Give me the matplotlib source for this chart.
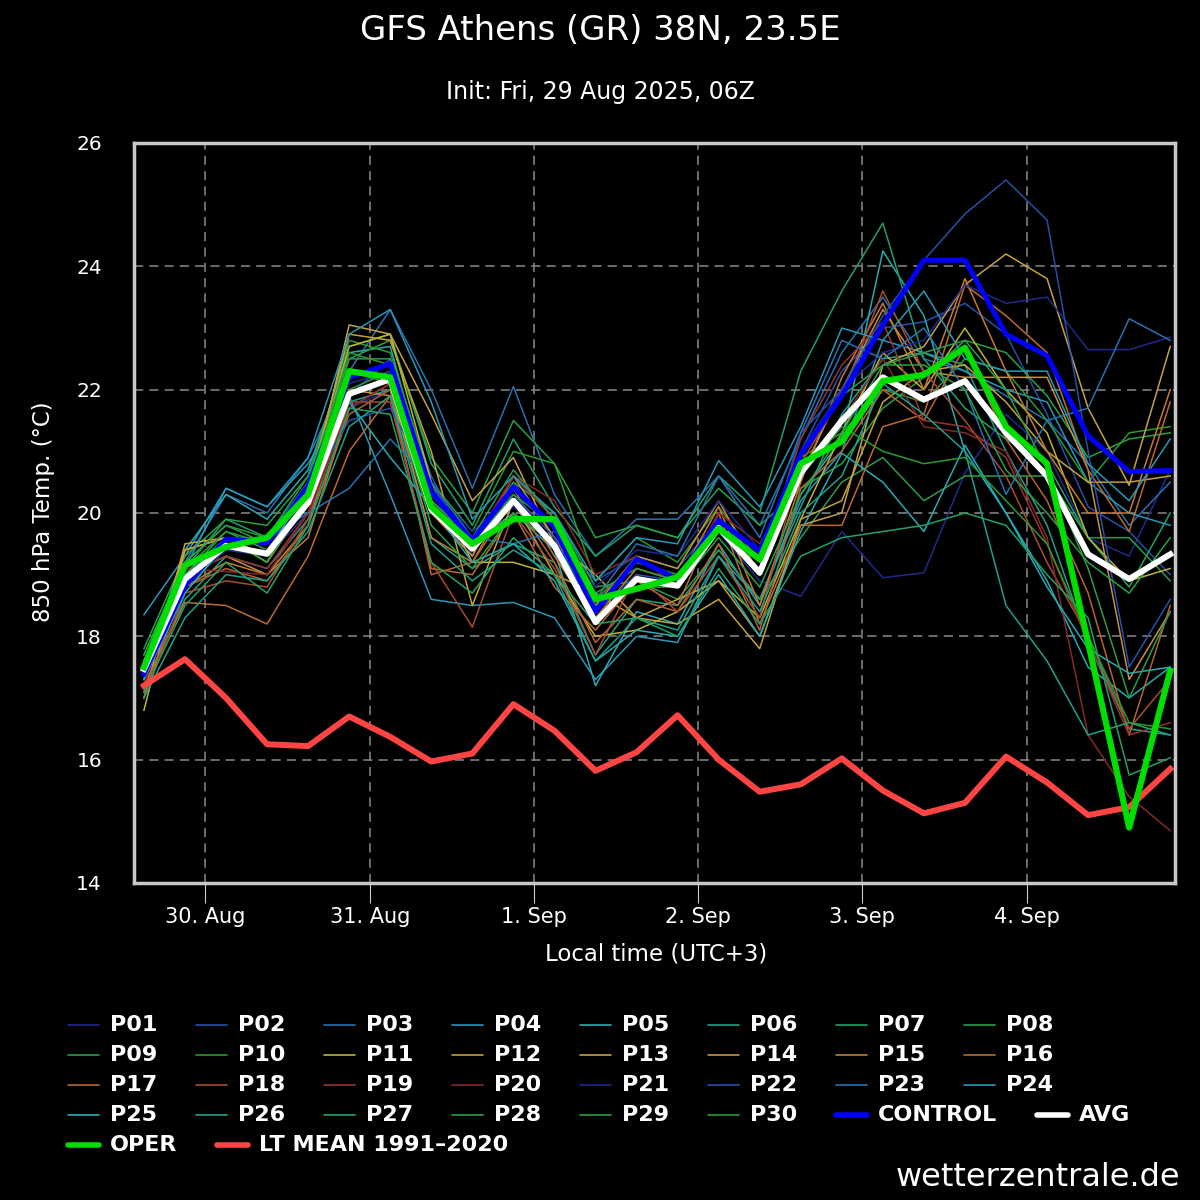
import matplotlib
matplotlib.use("Agg")
import matplotlib.pyplot as plt
from matplotlib.lines import Line2D

# ── Data: 850 hPa temperature, 6-hourly, local time (UTC+3) ──────────────────
# hours relative to 30 Aug 00:00 local, first step 29 Aug 15:00
HOURS = list(range(-9, 142, 6))

DAY_TICKS = [0, 24, 48, 72, 96, 120]
DAY_LABELS = ['30. Aug', '31. Aug', '1. Sep', '2. Sep', '3. Sep', '4. Sep']

OPER = [17.5, 19.15, 19.45, 19.6, 20.3, 22.3, 22.2, 20.1, 19.5, 19.9, 19.9, 18.6, 18.77,
        18.96, 19.75, 19.25, 20.8, 21.16, 22.14, 22.24, 22.68, 21.4, 20.8, 17.9, 14.9, 17.44]
CONTROL = [17.39, 18.82, 19.58, 19.52, 20.44, 22.2, 22.42, 20.34, 19.55, 20.42, 19.77, 18.4,
           19.25, 18.93, 19.88, 19.38, 20.95, 21.9, 23.05, 24.1, 24.1, 22.9, 22.55, 21.25,
           20.67, 20.69]
AVG = [17.47, 18.93, 19.47, 19.34, 20.17, 21.93, 22.17, 20.06, 19.42, 20.2, 19.47, 18.23,
       18.93, 18.82, 19.76, 19.03, 20.65, 21.5, 22.2, 21.84, 22.14, 21.3, 20.6, 19.33, 18.93,
       19.33]
LT_MEAN = [17.2, 17.63, 17.0, 16.25, 16.22, 16.7, 16.37, 15.97, 16.1, 16.9, 16.47, 15.82,
           16.12, 16.72, 16.0, 15.48, 15.6, 16.02, 15.5, 15.13, 15.3, 16.05, 15.63, 15.1,
           15.23, 15.85]

P01 = [17.3, 18.9, 19.4, 19.3, 20.0, 21.7, 22.0, 20.2, 19.6, 20.1, 19.5, 18.4, 19.3, 18.9,
       19.7, 18.9, 18.65, 19.7, 18.95, 19.03, 20.65, 21.6, 21.0, 19.6, 19.3, 20.7]
P02 = [17.6, 19.0, 19.5, 19.5, 20.2, 21.9, 22.5, 20.6, 19.3, 20.5, 19.6, 18.9, 19.3, 19.1,
       19.9, 19.4, 21.0, 22.3, 23.0, 23.1, 23.4, 22.9, 21.6, 20.1, 19.7, 19.0]
P03 = [17.5, 19.2, 20.3, 20.0, 20.9, 22.3, 23.3, 22.0, 20.4, 22.05, 20.3, 19.3, 19.9, 19.9,
       20.6, 19.8, 21.2, 22.6, 23.5, 22.5, 22.3, 21.9, 21.5, 20.8, 19.8, 20.5]
P04 = [18.35, 19.3, 20.4, 20.1, 20.8, 21.9, 20.3, 18.6, 18.5, 18.55, 18.3, 17.3, 18.0, 17.9,
       19.3, 18.6, 20.2, 21.0, 22.8, 22.6, 22.3, 22.0, 21.8, 20.5, 20.0, 19.8]
P05 = [17.4, 19.4, 20.3, 19.9, 20.7, 22.6, 22.7, 20.3, 19.5, 20.0, 19.4, 17.2, 18.4, 18.2,
       19.5, 18.5, 20.3, 21.2, 24.25, 23.2, 21.0, 20.0, 18.9, 17.5, 17.0, 17.5]
P06 = [17.2, 18.6, 19.3, 19.1, 19.9, 21.8, 22.0, 19.6, 19.1, 19.5, 19.2, 17.7, 18.6, 18.5,
       19.4, 18.6, 20.1, 21.6, 22.5, 22.6, 22.4, 21.0, 19.8, 17.9, 16.5, 16.4]
P07 = [17.6, 19.1, 19.9, 19.6, 20.6, 22.7, 22.9, 20.8, 19.8, 21.2, 20.1, 19.3, 19.8, 19.6,
       20.6, 20.0, 22.3, 23.6, 24.7, 22.5, 21.7, 21.2, 20.8, 19.6, 18.8, 20.0]
P08 = [17.8, 19.3, 19.9, 19.8, 20.6, 22.5, 22.8, 20.9, 20.0, 21.5, 20.8, 19.6, 19.8, 19.6,
       20.4, 19.8, 20.4, 20.8, 21.7, 22.2, 22.8, 22.6, 21.9, 20.9, 21.2, 21.3]
P09 = [17.5, 19.0, 19.7, 19.4, 20.3, 22.0, 22.3, 20.2, 19.5, 20.5, 20.0, 18.8, 18.9, 18.6,
       19.4, 18.6, 19.6, 20.5, 20.9, 20.2, 20.6, 20.6, 20.6, 19.6, 19.6, 18.9]
P10 = [17.7, 19.2, 19.8, 19.6, 20.5, 22.8, 22.6, 20.5, 19.7, 21.0, 20.8, 18.9, 19.6, 19.2,
       20.1, 19.2, 20.9, 21.3, 22.0, 21.8, 22.5, 22.3, 21.5, 20.5, 21.3, 21.4]
P11 = [16.8, 19.4, 19.6, 19.3, 20.3, 22.7, 22.9, 20.5, 19.2, 19.2, 19.0, 18.0, 18.1, 18.4,
       18.9, 18.3, 19.9, 21.3, 22.6, 22.0, 23.0, 22.0, 21.3, 19.6, 18.9, 19.1]
P12 = [17.0, 19.5, 19.6, 19.2, 20.4, 22.9, 22.8, 21.0, 18.5, 20.2, 19.0, 18.7, 18.3, 18.2,
       18.6, 17.8, 19.9, 20.2, 21.8, 22.3, 22.4, 21.8, 21.0, 20.5, 20.5, 20.6]
P13 = [17.3, 19.4, 19.6, 19.2, 20.2, 23.05, 22.9, 21.6, 20.2, 20.9, 19.5, 19.0, 18.3, 18.6,
       18.9, 18.0, 19.8, 20.0, 22.4, 22.7, 23.7, 24.2, 23.8, 21.7, 20.45, 22.7]
P14 = [17.4, 19.0, 19.3, 19.0, 19.8, 22.0, 21.9, 20.0, 19.3, 20.6, 19.6, 18.5, 19.3, 19.1,
       20.2, 19.0, 20.6, 22.0, 23.3, 22.3, 22.2, 22.2, 22.2, 20.7, 17.3, 18.4]
P15 = [17.3, 18.8, 19.2, 19.0, 19.6, 21.7, 22.1, 19.6, 19.2, 20.4, 19.3, 18.3, 19.1, 18.9,
       20.1, 18.5, 20.5, 22.2, 23.4, 22.0, 23.8, 22.3, 21.0, 20.0, 20.0, 22.0]
P16 = [17.2, 18.55, 18.5, 18.2, 19.3, 21.0, 21.9, 19.1, 19.0, 20.0, 18.8, 18.1, 18.9, 18.5,
       20.0, 18.2, 19.8, 19.8, 21.4, 21.6, 23.7, 23.2, 22.6, 20.7, 19.7, 21.8]
P17 = [17.1, 18.8, 19.1, 18.9, 19.8, 21.6, 22.0, 19.0, 19.2, 20.2, 19.2, 17.9, 18.6, 18.4,
       19.5, 18.1, 20.4, 21.0, 22.0, 21.5, 22.7, 21.2, 20.2, 18.7, 16.4, 18.5]
P18 = [17.0, 18.7, 18.9, 18.8, 19.9, 21.8, 21.8, 19.2, 18.15, 20.0, 19.1, 17.7, 19.0, 18.4,
       19.3, 18.3, 20.8, 21.9, 23.6, 22.3, 21.5, 20.6, 19.2, 18.0, 16.5, 17.3]
P19 = [17.3, 19.0, 19.3, 19.1, 20.0, 21.9, 22.2, 20.0, 19.4, 20.6, 19.9, 18.6, 19.2, 19.0,
       19.8, 19.1, 21.2, 22.4, 23.1, 21.5, 21.4, 20.9, 19.5, 17.9, 16.4, 16.6]
P20 = [17.2, 19.1, 19.05, 19.0, 20.0, 21.7, 22.1, 20.2, 19.5, 20.6, 20.2, 19.0, 19.3, 18.8,
       20.0, 19.5, 20.7, 21.5, 22.5, 21.4, 21.3, 21.0, 19.6, 16.4, 15.4, 14.85]
P21 = [17.3, 18.8, 19.4, 19.4, 20.3, 22.1, 22.3, 20.4, 19.7, 20.3, 19.5, 18.8, 19.4, 19.3,
       20.2, 19.4, 21.0, 22.0, 22.6, 22.8, 23.7, 23.4, 23.5, 22.65, 22.65, 22.85]
P22 = [17.4, 18.9, 19.6, 19.5, 20.4, 21.5, 21.7, 20.5, 19.4, 20.3, 19.6, 18.4, 19.0, 18.9,
       19.8, 19.0, 21.3, 22.0, 23.2, 24.1, 24.85, 25.4, 24.75, 21.0, 17.5, 18.6]
P23 = [17.5, 19.0, 19.6, 19.6, 20.0, 20.4, 21.2, 20.5, 19.6, 19.5, 19.7, 18.6, 19.5, 19.3,
       20.6, 19.6, 21.3, 22.8, 22.5, 23.0, 22.0, 20.3, 21.5, 21.7, 23.15, 22.8]
P24 = [17.6, 19.1, 20.4, 20.1, 20.9, 22.9, 23.3, 21.8, 19.9, 20.6, 20.0, 18.9, 19.6, 19.5,
       20.85, 20.1, 21.4, 23.0, 22.8, 23.6, 22.5, 22.3, 22.3, 20.8, 20.2, 21.2]
P25 = [17.3, 18.7, 19.5, 19.3, 20.5, 21.8, 20.9, 20.1, 19.2, 19.5, 18.9, 17.6, 18.1, 18.0,
       19.0, 18.0, 19.7, 20.97, 20.5, 19.7, 21.1, 20.0, 18.8, 17.8, 17.4, 17.5]
P26 = [17.0, 18.3, 19.0, 18.9, 19.7, 21.4, 21.9, 19.5, 18.9, 19.4, 19.0, 17.6, 18.3, 18.1,
       19.3, 18.4, 20.0, 20.6, 22.1, 21.6, 21.0, 18.5, 17.6, 16.4, 16.6, 16.4]
P27 = [17.1, 18.5, 19.2, 18.7, 19.8, 21.7, 21.6, 19.2, 18.7, 19.6, 19.0, 18.2, 18.3, 18.0,
       19.1, 18.2, 19.3, 19.6, 19.7, 19.8, 20.0, 19.8, 19.0, 18.3, 15.75, 16.03]
P28 = [17.5, 19.0, 19.6, 19.2, 20.2, 22.3, 22.1, 19.8, 19.1, 20.0, 19.5, 18.5, 18.8, 18.8,
       19.6, 18.8, 20.3, 21.3, 22.4, 22.4, 22.0, 20.7, 20.0, 19.2, 18.7, 19.6]
P29 = [17.7, 19.2, 19.8, 19.5, 20.5, 22.5, 22.5, 20.2, 19.6, 20.7, 19.9, 18.7, 19.1, 18.9,
       19.9, 19.2, 20.9, 21.9, 22.4, 22.6, 22.8, 22.0, 20.7, 19.1, 17.0, 18.4]
P30 = [17.6, 19.1, 19.7, 19.5, 20.4, 22.6, 22.4, 20.0, 19.5, 20.3, 19.8, 18.6, 19.2, 19.0,
       19.8, 19.0, 20.6, 21.4, 21.0, 20.8, 20.9, 20.2, 19.5, 18.0, 16.6, 16.5]

MEMBERS = [P01, P02, P03, P04, P05, P06, P07, P08, P09, P10, P11, P12, P13, P14, P15,
           P16, P17, P18, P19, P20, P21, P22, P23, P24, P25, P26, P27, P28, P29, P30]
MEMBER_NAMES = ['P%02d' % (k + 1) for k in range(30)]
MEMBER_COLORS = ['#1f2a8c', '#2550a8', '#2a70b0', '#2a96b8', '#28aab2', '#1fa08a',
                 '#22a066', '#28a044', '#2c9a4c', '#2a9a30', '#bcb434', '#c4a236',
                 '#c6a044', '#c69044', '#c47a34', '#ba6a30', '#b46430', '#a84c30',
                 '#963232', '#862828', '#1f2a8c', '#2550a8', '#2a70b0', '#2a96b8',
                 '#28aab2', '#1fa08a', '#22a066', '#28a044', '#2c9a4c', '#2a9a30']

C_CONTROL = '#0000ff'
C_AVG = '#ffffff'
C_OPER = '#00dd00'
C_LT = '#ff4444'

W, H = 1200, 1200


def fx(px):
    return px / W


def fy(py):
    return 1 - py / H


fig = plt.figure(figsize=(12, 12), dpi=100, facecolor='black')
ax = fig.add_axes([fx(134), fy(883), fx(1175) - fx(134), fy(143) - fy(883)])
ax.set_facecolor('black')

for vals, col in zip(MEMBERS, MEMBER_COLORS):
    ax.plot(HOURS, vals, color=col, lw=1.1, zorder=2)
ax.plot(HOURS, LT_MEAN, color=C_LT, lw=4.3, zorder=3)
ax.plot(HOURS, CONTROL, color=C_CONTROL, lw=3.6, zorder=4)
ax.plot(HOURS, AVG, color=C_AVG, lw=4.3, zorder=5)
ax.plot(HOURS, OPER, color=C_OPER, lw=4.5, zorder=6)

ax.set_xlim(-10.45, 141.7)
ax.set_ylim(14, 26)
ax.set_xticks(DAY_TICKS)
ax.set_xticklabels(DAY_LABELS)
ax.set_yticks([14, 16, 18, 20, 22, 24, 26])
ax.grid(True, color='#8a8a8a', lw=1.1, ls=(0, (6, 4)), zorder=1)
ax.tick_params(axis='x', colors='white', length=14.4, width=0.8, pad=3, labelsize=15)
ax.tick_params(axis='x', color='#cccccc')
ax.tick_params(axis='y', colors='white', length=0, pad=23, labelsize=14.5)
for sp in ax.spines.values():
    sp.set_color('#c8c8c8')
    sp.set_linewidth(2.5)
    sp.set_zorder(10)

# ── Titles / axis labels ─────────────────────────────────────────────────────
fig.text(0.5, fy(30), 'GFS Athens (GR) 38N, 23.5E', color='white', fontsize=24.5,
         ha='center', va='center')
fig.text(0.5, fy(92), 'Init: Fri, 29 Aug 2025, 06Z', color='white', fontsize=17,
         ha='center', va='center')
fig.text(fx(656), fy(954), 'Local time (UTC+3)', color='white', fontsize=16.5,
         ha='center', va='center')
fig.text(fx(44), fy(512), '850 hPa Temp. (°C)', color='white', fontsize=16.5,
         ha='center', va='center', rotation=90)

# ── Legend (flowing rows, drawn by hand) ─────────────────────────────────────
def legend_item(x_px, y_px, label, color, lw):
    fig.add_artist(Line2D([fx(x_px), fx(x_px + 31)], [fy(y_px), fy(y_px)],
                          color=color, lw=lw, solid_capstyle='round',
                          transform=fig.transFigure))
    fig.text(fx(x_px + 42), fy(y_px), label, color='white', fontsize=16,
             fontweight='bold', ha='left', va='center')


for k, (name, col) in enumerate(zip(MEMBER_NAMES, MEMBER_COLORS)):
    row, c = divmod(k, 8)
    legend_item(68 + 128 * c, 1025 + 30 * row, name, col, 1.2)
legend_item(836, 1115, 'CONTROL', C_CONTROL, 4.0)
legend_item(1037, 1115, 'AVG', C_AVG, 4.0)
legend_item(68, 1145, 'OPER', C_OPER, 4.0)
legend_item(217, 1145, 'LT MEAN 1991–2020', C_LT, 4.0)

fig.text(fx(1180), fy(1178), 'wetterzentrale.de', color='white', fontsize=23,
         ha='right', va='center')

fig.savefig('out.png', dpi=100, facecolor='black')
